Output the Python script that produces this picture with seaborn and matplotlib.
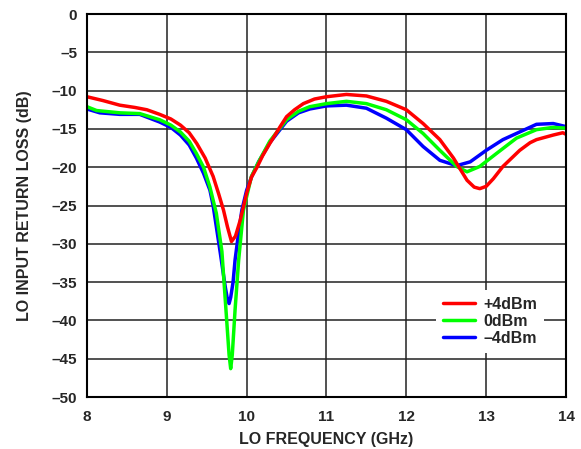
import matplotlib
matplotlib.use("Agg")
import matplotlib.pyplot as plt
import pandas as pd
import seaborn as sns

# LO return loss curves
freq_p4 = [8.0, 8.2, 8.41, 8.6, 8.75, 8.91, 9.05, 9.17, 9.28, 9.375, 9.48, 9.58, 9.65,
           9.71, 9.76, 9.81, 9.86, 9.92, 10.0, 10.06, 10.13, 10.2, 10.29, 10.42, 10.5,
           10.6, 10.71, 10.85, 11.0, 11.25, 11.5, 11.75, 12.0, 12.21, 12.42, 12.59,
           12.76, 12.85, 12.92, 13.0, 13.09, 13.21, 13.42, 13.55, 13.63, 13.84, 13.96, 14.0]
loss_p4 = [-10.8, -11.3, -11.9, -12.2, -12.5, -13.1, -13.7, -14.5, -15.5, -16.9, -18.8,
           -21.2, -23.5, -25.6, -27.8, -29.7, -29.0, -26.9, -23.4, -21.3, -20.0, -18.5,
           -16.9, -14.7, -13.4, -12.5, -11.7, -11.1, -10.8, -10.5, -10.7, -11.4, -12.5,
           -14.3, -16.4, -18.8, -21.7, -22.6, -22.8, -22.5, -21.5, -19.9, -17.8, -16.8,
           -16.4, -15.8, -15.5, -15.7]

freq_0 = [8.0, 8.12, 8.41, 8.66, 8.91, 9.05, 9.17, 9.28, 9.37, 9.46, 9.54, 9.62, 9.69,
          9.75, 9.78, 9.80, 9.82, 9.855, 9.9, 9.96, 10.06, 10.15, 10.29, 10.5, 10.65,
          10.79, 11.0, 11.25, 11.5, 11.75, 12.0, 12.21, 12.42, 12.63, 12.76, 12.92,
          13.13, 13.38, 13.63, 13.84, 14.0]
loss_0 = [-12.1, -12.6, -12.9, -13.0, -13.8, -14.5, -15.4, -16.6, -18.2, -20.0, -22.6,
          -26.0, -31.0, -40.0, -44.5, -46.3, -44.5, -38.6, -32.1, -25.6, -21.2, -19.3,
          -16.6, -13.8, -12.7, -12.1, -11.7, -11.4, -11.7, -12.5, -13.8, -15.6, -17.8,
          -19.9, -20.6, -19.9, -18.2, -16.2, -15.1, -14.8, -14.9]

freq_m4 = [8.0, 8.16, 8.41, 8.66, 8.91, 9.05, 9.17, 9.28, 9.37, 9.46, 9.54, 9.58, 9.67,
           9.73, 9.76, 9.78, 9.80, 9.83, 9.855, 9.9, 9.94, 10.0, 10.06, 10.15, 10.29,
           10.5, 10.65, 10.79, 11.0, 11.25, 11.5, 11.75, 12.0, 12.21, 12.42, 12.63,
           12.80, 13.0, 13.21, 13.42, 13.63, 13.84, 14.0]
loss_m4 = [-12.4, -12.9, -13.1, -13.1, -14.1, -14.8, -15.8, -17.1, -18.8, -20.8, -23.0,
           -25.0, -31.2, -35.5, -37.3, -37.8, -37.0, -35.0, -32.1, -28.5, -25.6, -23.0,
           -21.3, -19.3, -16.8, -14.0, -12.9, -12.4, -12.0, -11.9, -12.3, -13.6, -15.1,
           -17.3, -19.1, -19.8, -19.3, -17.8, -16.4, -15.4, -14.4, -14.3, -14.7]

labels = ["+4dBm", "0dBm", "\u20134dBm"]
x_ticks = [8, 9, 10, 11, 12, 13, 14]
y_ticks = [0, -5, -10, -15, -20, -25, -30, -35, -40, -45, -50]

df = pd.concat([
    pd.DataFrame({"freq": freq_p4, "loss": loss_p4, "power": labels[0]}),
    pd.DataFrame({"freq": freq_0, "loss": loss_0, "power": labels[1]}),
    pd.DataFrame({"freq": freq_m4, "loss": loss_m4, "power": labels[2]}),
])

sns.set_style("white")
plt.rcParams["font.family"] = ["Liberation Sans", "DejaVu Sans"]
plt.rcParams["font.weight"] = "bold"

colors = {labels[0]: "#ff0000", labels[1]: "#00ff00", labels[2]: "#0000ff"}

fig = plt.figure(figsize=(5.81, 4.49), dpi=100)
ax = fig.add_axes([0.1497, 0.1158, 0.8245, 0.853])

# draw blue first, red last (red sits on top)
for lab in reversed(labels):
    sns.lineplot(data=df[df["power"] == lab], x="freq", y="loss", color=colors[lab],
                 linewidth=2.5, label=lab, ax=ax, sort=False)

ax.set_xlim(8, 14)
ax.set_ylim(-50, 0)
ax.set_xticks(x_ticks)
ax.set_xticklabels([str(t) for t in x_ticks], fontsize=11, fontweight="bold")
ax.set_yticks(y_ticks)
ax.set_yticklabels([str(t).replace("-", "\u2013") for t in y_ticks], fontsize=11,
                   fontweight="bold")
ax.tick_params(axis="x", length=0, pad=9)
ax.tick_params(axis="y", length=0, pad=7)
ax.grid(True, color="#222222", linewidth=1.1)
for s in ax.spines.values():
    s.set_color("black")
    s.set_linewidth(1.5)

ax.set_xlabel("LO FREQUENCY (GHz)", fontsize=11.5, fontweight="bold", va="center")
ax.set_ylabel("LO INPUT RETURN LOSS (dB)", fontsize=11.5, fontweight="bold", va="center")
ax.xaxis.set_label_coords(0.5, -0.11)
ax.yaxis.set_label_coords(-0.131, 0.5)

handles, lbls = ax.get_legend_handles_labels()
order = [lbls.index(l) for l in labels]
leg = ax.legend([handles[i] for i in order], [lbls[i] for i in order],
                loc="lower right", bbox_to_anchor=(0.955, 0.115), borderaxespad=0,
                frameon=True, framealpha=1, edgecolor="none", facecolor="white",
                fancybox=False, fontsize=11.5, handlelength=2.0, labelspacing=0.12,
                borderpad=0.45, handletextpad=0.5)
for t in leg.get_texts():
    t.set_fontweight("bold")

fig.savefig("out.png", dpi=100)
